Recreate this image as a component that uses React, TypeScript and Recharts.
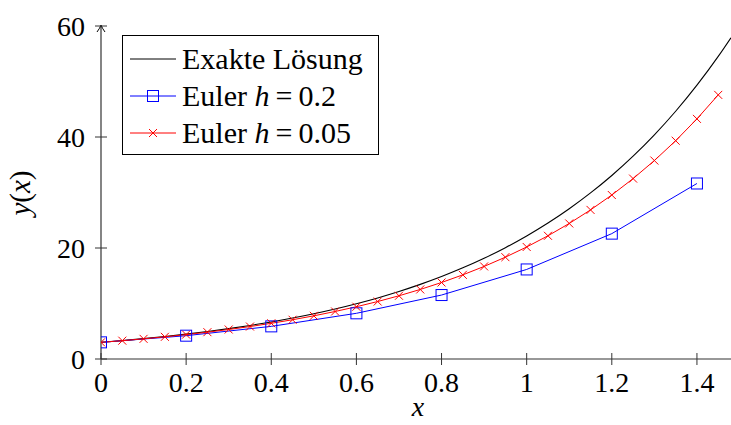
import React from "react";
import { LineChart, Line, XAxis, YAxis, Legend, ReferenceDot } from "recharts";

// exakte Lösung y = 3 e^{2x}
const exactX = [0, 0.05, 0.1, 0.15, 0.2, 0.25, 0.3, 0.35, 0.4, 0.45, 0.5, 0.55, 0.6, 0.65, 0.7, 0.75, 0.8, 0.85, 0.9, 0.95, 1, 1.05, 1.1, 1.15, 1.2, 1.25, 1.3, 1.35, 1.4, 1.45, 1.48];
const exactY = [3, 3.316, 3.664, 4.05, 4.476, 4.946, 5.466, 6.041, 6.677, 7.379, 8.155, 9.013, 9.96, 11.008, 12.166, 13.445, 14.859, 16.422, 18.149, 20.058, 22.167, 24.499, 27.075, 29.923, 33.07, 36.548, 40.391, 44.639, 49.334, 54.522, 57.894];

// Euler h = 0.2
const coarseX = [0, 0.2, 0.4, 0.6, 0.8, 1, 1.2, 1.4];
const coarseY = [3, 4.2, 5.88, 8.232, 11.525, 16.135, 22.589, 31.624];

// Euler h = 0.05
const fineX = [0, 0.05, 0.1, 0.15, 0.2, 0.25, 0.3, 0.35, 0.4, 0.45, 0.5, 0.55, 0.6, 0.65, 0.7, 0.75, 0.8, 0.85, 0.9, 0.95, 1, 1.05, 1.1, 1.15, 1.2, 1.25, 1.3, 1.35, 1.4, 1.45];
const fineY = [3, 3.3, 3.63, 3.993, 4.392, 4.832, 5.315, 5.846, 6.431, 7.074, 7.781, 8.559, 9.415, 10.357, 11.393, 12.532, 13.785, 15.163, 16.68, 18.348, 20.183, 22.201, 24.421, 26.863, 29.549, 32.504, 35.755, 39.33, 43.263, 47.589];

const xTicks = [0, 0.2, 0.4, 0.6, 0.8, 1, 1.2, 1.4];
const yTicks = [0, 20, 40, 60];

const zip = (xs: number[], ys: number[]) => xs.map((x, i) => ({ x, y: ys[i] }));

const FONT = "'Liberation Serif', 'DejaVu Serif', serif";
const AXIS = "#333";

function XTick({ x, y, payload }: any) {
  return (
    <g>
      <line x1={x} y1={y - 6} x2={x} y2={y + 6} stroke={AXIS} strokeWidth={1} />
      <text x={x} y={y + 33} textAnchor="middle" fontFamily={FONT} fontSize={28} fill="#000">
        {String(payload.value)}
      </text>
    </g>
  );
}

function YTick({ x, y, payload }: any) {
  return (
    <g>
      <line x1={x - 6} y1={y} x2={x + 6} y2={y} stroke={AXIS} strokeWidth={1} />
      <text x={x - 16} y={y + 10} textAnchor="end" fontFamily={FONT} fontSize={28} fill="#000">
        {String(payload.value)}
      </text>
    </g>
  );
}

function SquareDot({ cx, cy, index }: any) {
  return <rect key={index} x={cx - 5.5} y={cy - 5.5} width={11} height={11} fill="none" stroke="#0000ff" strokeWidth={1} />;
}

function CrossDot({ cx, cy, index }: any) {
  return (
    <path key={index} d={`M${cx - 4},${cy - 4}L${cx + 4},${cy + 4}M${cx - 4},${cy + 4}L${cx + 4},${cy - 4}`} stroke="#ff0000" strokeWidth={1} />
  );
}

function LegendBox() {
  const row = { display: "flex", alignItems: "center", height: 37 } as const;
  const sample = (color: string, marker?: React.ReactNode) => (
    <svg width={46} height={20} style={{ marginRight: 6 }}>
      <line x1={0} y1={10} x2={46} y2={10} stroke={color} strokeWidth={1} />
      {marker}
    </svg>
  );
  return (
    <div
      style={{
        border: "1px solid #000",
        background: "#fff",
        padding: "4px 8px 3px 7px",
        fontFamily: FONT,
        fontSize: 30,
        lineHeight: "37px",
        color: "#000",
        boxSizing: "border-box",
        width: 257,
        whiteSpace: "nowrap",
      }}
    >
      <div style={row}>
        {sample("#000")}
        <span>Exakte Lösung</span>
      </div>
      <div style={row}>
        {sample("#0000ff", <rect x={17.5} y={4.5} width={11} height={11} fill="none" stroke="#0000ff" />)}
        <span>
          Euler <i>h</i>{"\u2009"}={"\u2009"}0.2
        </span>
      </div>
      <div style={row}>
        {sample("#ff0000", <path d="M19,6L27,14M19,14L27,6" stroke="#ff0000" />)}
        <span>
          Euler <i>h</i>{"\u2009"}={"\u2009"}0.05
        </span>
      </div>
    </div>
  );
}

export default function App() {
  return (
    <div style={{ position: "absolute", left: 0, top: 0, width: 731, height: 425, background: "#fff", overflow: "hidden" }}>
      <LineChart width={731} height={425} margin={{ top: 26, right: 0, bottom: 65, left: 100 }}>
        <XAxis
          dataKey="x"
          type="number"
          domain={[0, 1.48]}
          ticks={xTicks}
          height={1}
          tickSize={0}
          tickMargin={0}
          tickLine={false}
          tick={<XTick />}
          axisLine={{ stroke: AXIS, strokeWidth: 1.2 }}
          allowDataOverflow
        />
        <YAxis
          type="number"
          domain={[0, 60]}
          ticks={yTicks}
          width={1}
          tickSize={0}
          tickMargin={0}
          tickLine={false}
          tick={<YTick />}
          axisLine={{ stroke: AXIS, strokeWidth: 1.2 }}
          allowDataOverflow
        />
        <Line data={zip(exactX, exactY)} dataKey="y" type="monotone" stroke="#000" strokeWidth={1.1} dot={false} isAnimationActive={false} name="Exakte Lösung" />
        <Line data={zip(coarseX, coarseY)} dataKey="y" type="linear" stroke="#0000ff" strokeWidth={1} dot={<SquareDot />} isAnimationActive={false} name="Euler h = 0.2" />
        <Line data={zip(fineX, fineY)} dataKey="y" type="linear" stroke="#ff0000" strokeWidth={1} dot={<CrossDot />} isAnimationActive={false} name="Euler h = 0.05" />
        <ReferenceDot
          x={0}
          y={60}
          r={0}
          ifOverflow="visible"
          shape={(p: any) => (
            <path d={`M${p.cx - 4},${p.cy + 6}Q${p.cx - 1},${p.cy + 2} ${p.cx},${p.cy - 1}Q${p.cx + 1},${p.cy + 2} ${p.cx + 4},${p.cy + 6}`} fill="none" stroke="#000" strokeWidth={1} />
          )}
        />
        <Legend layout="vertical" align="center" verticalAlign="middle" wrapperStyle={{ left: 122, top: 35, width: 257 }} content={() => <LegendBox />} />
        <text x={20} y={193} transform="rotate(-90 20 193)" textAnchor="middle" dominantBaseline="central" fontFamily={FONT} fontSize={29} fill="#000">
          <tspan fontStyle="italic">y</tspan>(<tspan fontStyle="italic">x</tspan>)
        </text>
        <text x={418} y={416} textAnchor="middle" fontFamily={FONT} fontSize={28} fontStyle="italic" fill="#000">
          x
        </text>
      </LineChart>
    </div>
  );
}
